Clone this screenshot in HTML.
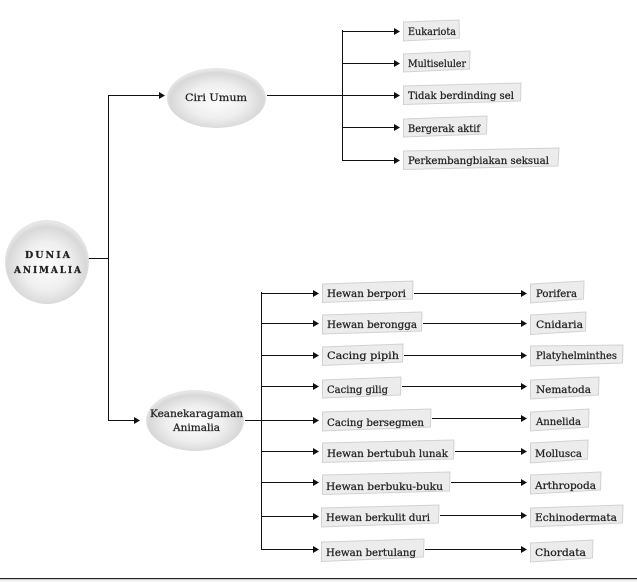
<!DOCTYPE html>
<html><head><meta charset="utf-8"><style>
html,body{margin:0;padding:0;background:#fff;width:637px;height:582px;overflow:hidden}
svg{display:block}
text{font-family:"DejaVu Serif","Liberation Mono",serif;font-size:10px;fill:#222;stroke:#222;stroke-width:.25px}
.b{fill:#ececec;stroke:#d2d2d2;stroke-width:1}
.l{stroke:#111;stroke-width:1;fill:none}
.a{fill:#111}
</style></head><body>
<svg width="637" height="582" viewBox="0 0 637 582" xmlns="http://www.w3.org/2000/svg">
<defs>
<radialGradient id="g" cx="50%" cy="55%" r="52%">
<stop offset="0" stop-color="#fdfdfd"/><stop offset=".55" stop-color="#efefef"/><stop offset=".9" stop-color="#d8d8d8"/><stop offset="1" stop-color="#e6e6e6"/>
</radialGradient>
</defs>

<!-- connectors -->
<path class="l" d="M88 258.500H108.500M108.500 95.500V420.500M108 95.500H161M108 420.500H136"/>
<path class="l" d="M267 95.500H397M342.500 30V161M342 31.500H397M342 63.500H397M342 127.500H397M342 160.500H397"/>
<path class="l" d="M245 420.500H316M261.500 292V550M261 293.500H316M261 323.500H316M261 355.500H316M261 386.500H316M261 451.500H316M261 482.500H316M261 516.500H316M261 549.500H316"/>
<path class="l" d="M414 293.500H524M423 323.500H524M404 355.500H524M402 386.500H524M432 418.500H524M455 451.500H524M451 482.500H524M440 515.500H524M425 549.500H524"/>

<!-- arrowheads -->
<g class="a" transform="translate(-1 0)">
<path d="M160 92 L166 95.500 L160 99Z"/><path d="M135 417 L141 420.500 L135 424Z"/>
<path d="M395 28 L401 31.500 L395 35Z"/><path d="M395 60 L401 63.500 L395 67Z"/><path d="M395 92 L401 95.500 L395 99Z"/><path d="M395 124 L401 127.500 L395 131Z"/><path d="M395 157 L401 160.500 L395 164Z"/>
<path d="M314 290 L320 293.500 L314 297Z"/><path d="M314 320 L320 323.500 L314 327Z"/><path d="M314 352 L320 355.500 L314 359Z"/><path d="M314 383 L320 386.500 L314 390Z"/><path d="M314 417 L320 420.500 L314 424Z"/><path d="M314 448 L320 451.500 L314 455Z"/><path d="M314 479 L320 482.500 L314 486Z"/><path d="M314 513 L320 516.500 L314 520Z"/><path d="M314 546 L320 549.500 L314 553Z"/>
<path d="M522 290 L528 293.500 L522 297Z"/><path d="M522 320 L528 323.500 L522 327Z"/><path d="M522 352 L528 355.500 L522 359Z"/><path d="M522 383 L528 386.500 L522 390Z"/><path d="M522 415 L528 418.500 L522 422Z"/><path d="M522 448 L528 451.500 L522 455Z"/><path d="M522 479 L528 482.500 L522 486Z"/><path d="M522 512 L528 515.500 L522 519Z"/><path d="M522 546 L528 549.500 L522 553Z"/>
</g>

<!-- ellipses -->
<circle cx="47" cy="262" r="42" fill="url(#g)"/>
<ellipse cx="216.500" cy="98" rx="49.500" ry="30" fill="url(#g)"/>
<ellipse cx="195" cy="420.500" rx="49" ry="30.500" fill="url(#g)"/>

<!-- boxes -->
<polygon class="b" points="403.500,22 459,20 459.500,38 403.500,41"/>
<polygon class="b" points="403.500,54 470,51 469.500,69 403.500,72"/>
<polygon class="b" points="403.500,86 521,83 520.500,101 403.500,104.500"/>
<polygon class="b" points="403.500,119 487,116 486.500,134 403.500,137"/>
<polygon class="b" points="403.500,151 559,148 558,166 403.500,169.500"/>

<polygon class="b" points="322.500,284 413,281 412.500,299 322.500,302.500"/>
<polygon class="b" points="322.500,315 422,312 421.500,331 322.500,334"/>
<polygon class="b" points="322.500,347 403,344 402.500,362 322.500,365.500"/>
<polygon class="b" points="322.500,380 401,377 400.500,395 322.500,398"/>
<polygon class="b" points="322.500,412 431,409 430.500,427 322.500,431"/>
<polygon class="b" points="322.500,443 454,440 453.500,459 322.500,462.500"/>
<polygon class="b" points="322.500,475 450,472 449.500,491 322.500,494.500"/>
<polygon class="b" points="321.500,508 439,505 438.500,523 321.500,527"/>
<polygon class="b" points="321.500,542 424,539 423.500,557 321.500,561.500"/>

<polygon class="b" points="530.500,284 584,281 583.500,299 530.500,303"/>
<polygon class="b" points="530.500,315 586,312 585.500,331 530.500,334.500"/>
<polygon class="b" points="530.500,346 623,345 622.500,363 530.500,366"/>
<polygon class="b" points="530.500,380 599,377 598.500,395 530.500,399"/>
<polygon class="b" points="530.500,412 589,409 588.500,427 530.500,431"/>
<polygon class="b" points="530.500,443 588,440 587.500,459 530.500,463"/>
<polygon class="b" points="530.500,475 601,472 600.500,490 530.500,494"/>
<polygon class="b" points="530.500,508 623,505 622.500,523 530.500,527"/>
<polygon class="b" points="530.500,543 593,540 592.500,558 530.500,562"/>

<!-- labels -->
<text x="25" y="258" textLength="45" lengthAdjust="spacing" style="font-weight:bold;font-size:9.500px">DUNIA</text>
<text x="14" y="273" textLength="67" lengthAdjust="spacing" style="font-weight:bold;font-size:9px">ANIMALIA</text>
<text x="185" y="101" textLength="62" lengthAdjust="spacingAndGlyphs">Ciri Umum</text>
<text x="150" y="417" textLength="93" lengthAdjust="spacingAndGlyphs">Keanekaragaman</text>
<text x="173" y="431" textLength="47" lengthAdjust="spacingAndGlyphs">Animalia</text>

<text x="408" y="35" textLength="48" lengthAdjust="spacingAndGlyphs">Eukariota</text>
<text x="408" y="67" textLength="58" lengthAdjust="spacingAndGlyphs">Multiseluler</text>
<text x="408" y="99" textLength="106" lengthAdjust="spacingAndGlyphs">Tidak berdinding sel</text>
<text x="408" y="132" textLength="72" lengthAdjust="spacingAndGlyphs">Bergerak aktif</text>
<text x="408" y="164" textLength="141" lengthAdjust="spacingAndGlyphs">Perkembangbiakan seksual</text>

<text x="327" y="297" textLength="79" lengthAdjust="spacingAndGlyphs">Hewan berpori</text>
<text x="327" y="328" textLength="90" lengthAdjust="spacingAndGlyphs">Hewan berongga</text>
<text x="327" y="359" textLength="72" lengthAdjust="spacingAndGlyphs">Cacing pipih</text>
<text x="327" y="393" textLength="61" lengthAdjust="spacingAndGlyphs">Cacing gilig</text>
<text x="327" y="426" textLength="97" lengthAdjust="spacingAndGlyphs">Cacing bersegmen</text>
<text x="327" y="457" textLength="121" lengthAdjust="spacingAndGlyphs">Hewan bertubuh lunak</text>
<text x="326" y="490" textLength="117" lengthAdjust="spacingAndGlyphs">Hewan berbuku-buku</text>
<text x="326" y="521" textLength="104" lengthAdjust="spacingAndGlyphs">Hewan berkulit duri</text>
<text x="326" y="556" textLength="90" lengthAdjust="spacingAndGlyphs">Hewan bertulang</text>

<text x="536" y="297" textLength="41" lengthAdjust="spacingAndGlyphs">Porifera</text>
<text x="536" y="328" textLength="47" lengthAdjust="spacingAndGlyphs">Cnidaria</text>
<text x="536" y="359" textLength="81" lengthAdjust="spacingAndGlyphs">Platyhelminthes</text>
<text x="536" y="393" textLength="55" lengthAdjust="spacingAndGlyphs">Nematoda</text>
<text x="536" y="425" textLength="45" lengthAdjust="spacingAndGlyphs">Annelida</text>
<text x="535" y="457" textLength="47" lengthAdjust="spacingAndGlyphs">Mollusca</text>
<text x="535" y="489" textLength="61" lengthAdjust="spacingAndGlyphs">Arthropoda</text>
<text x="535" y="521" textLength="82" lengthAdjust="spacingAndGlyphs">Echinodermata</text>
<text x="535" y="556" textLength="51" lengthAdjust="spacingAndGlyphs">Chordata</text>

<!-- bottom rule -->
<rect x="0" y="578" width="637" height="1.300" fill="#222"/>
<rect x="0" y="579.300" width="637" height="2.700" fill="#f2f2f2"/>
</svg>
</body></html>
